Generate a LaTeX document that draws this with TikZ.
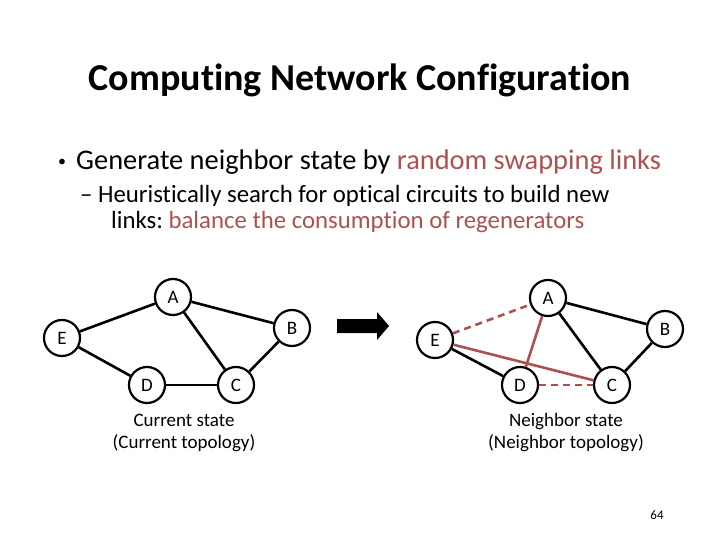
\documentclass[tikz,border=0pt]{standalone}
\usepackage{fontspec}
\setmainfont{Carlito}[Ligatures={NoCommon,NoRare,NoContextual}]
\definecolor{swapred}{RGB}{172,80,80}
\frenchspacing

\begin{document}
\begin{tikzpicture}[x=1pt, y=-1pt, every node/.style={inner sep=0pt},
	vertex/.style={circle, draw, line width=2.2pt, minimum size=36pt, inner sep=0pt, font=\fontsize{19}{22}\selectfont},
	link/.style={line width=2.6pt},
	newlink/.style={line width=2.6pt, swapred},
	oldlink/.style={line width=2.6pt, swapred, dashed, dash pattern=on 7pt off 5pt}]
	\useasboundingbox (0,0) rectangle (720,540);
	
	\node[font=\fontsize{38}{44}\selectfont\bfseries] (title) at (360,80) {Computing Network Configuration};
	\node[anchor=west, font=\fontsize{16}{18}\selectfont] (dot) at (58,163) {\textbullet};
	\node[anchor=west, font=\fontsize{28.4}{32}\selectfont] (item) at (76,162) {Generate neighbor state by \textcolor{swapred}{random swapping links}};
	\node[anchor=west, font=\fontsize{24.8}{30}\selectfont] (sub1) at (80,196) {\textendash\ Heuristically search for optical circuits to build new};
	\node[anchor=west, font=\fontsize{24.8}{30}\selectfont] (sub2) at (111,222) {links: \textcolor{swapred}{balance the consumption of regenerators}};
	
	% current topology
	\node[vertex] (A) at (173,297) {A};
	\node[vertex] (B) at (292,328) {B};
	\node[vertex] (C) at (236,385) {C};
	\node[vertex] (D) at (147,385) {D};
	\node[vertex] (E) at (62,338) {E};
	
	\draw[link] (E) -- (A);
	\draw[link] (A) -- (B);
	\draw[link] (A) -- (C);
	\draw[link] (B) -- (C);
	\draw[link] (E) -- (D);
	\draw[link] (D) -- (C);
	
	\node[align=center, font=\fontsize{19}{22}\selectfont] (cur) at (184,433) {Current state\\(Current topology)};
	
	% arrow
	\fill (337,319) -- (377,319) -- (377,312) -- (389,326) -- (377,340) -- (377,333) -- (337,333) -- cycle;
	
	% neighbor topology
	\node[vertex] (A2) at (548,298) {A};
	\node[vertex] (B2) at (665,329) {B};
	\node[vertex] (C2) at (612,385) {C};
	\node[vertex] (D2) at (520,385) {D};
	\node[vertex] (E2) at (435,340) {E};
	
	\draw[link] (A2) -- (B2);
	\draw[link] (A2) -- (C2);
	\draw[link] (B2) -- (C2);
	\draw[link] (E2) -- (D2);
	\draw[oldlink] (E2) -- (A2);
	\draw[oldlink] (D2) -- (C2);
	\draw[newlink] (A2) -- (D2);
	\draw[newlink] (E2) -- (C2);
	
	\node[align=center, font=\fontsize{19}{22}\selectfont] (nbr) at (566,433) {Neighbor state\\(Neighbor topology)};
	
	\node[font=\fontsize{13}{15}\selectfont] (page) at (657,515) {64};
\end{tikzpicture}
\end{document}
